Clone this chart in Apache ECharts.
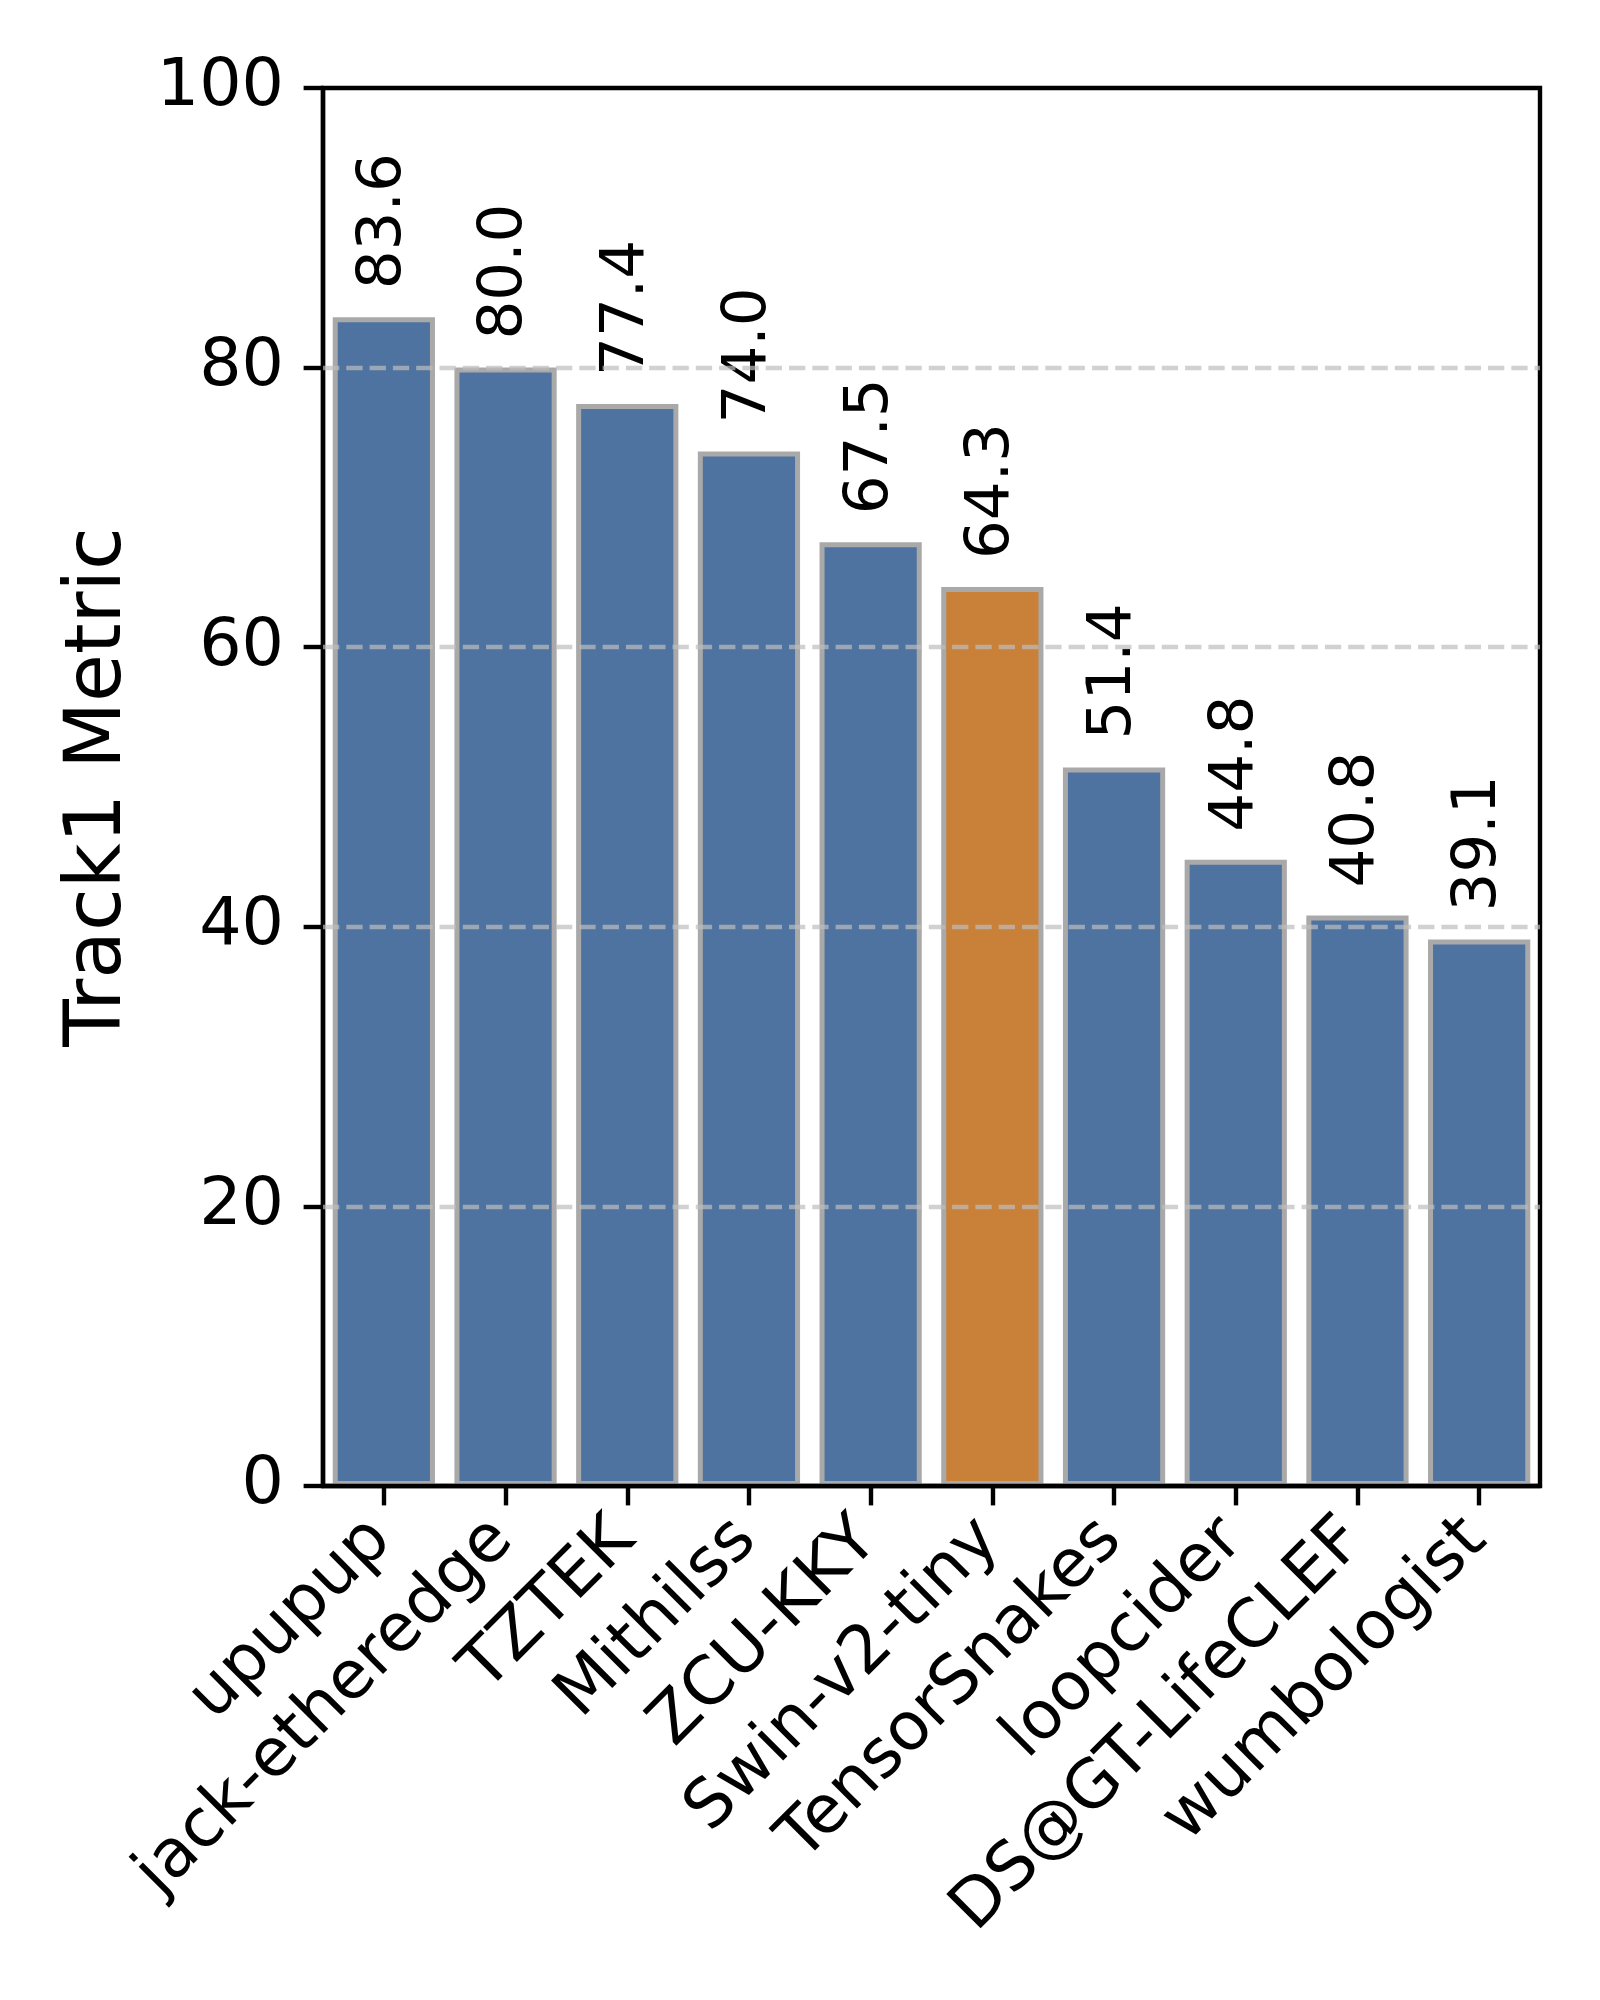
<!DOCTYPE html>
<html>
<head>
<meta charset="utf-8">
<script src="https://cdn.jsdelivr.net/npm/echarts@6/dist/echarts.min.js"></script>
<style>
html,body{margin:0;padding:0;background:#fff;}
#chart{width:1600px;height:2000px;}
</style>
</head>
<body>
<div id="chart"></div>
<script>
const categories = ['upupup','jack-etheredge','TZTEK','Mithilss','ZCU-KKY','Swin-v2-tiny','TensorSnakes','loopcider','DS@GT-LifeCLEF','wumbologist'];
const values = [83.6, 80.0, 77.4, 74.0, 67.5, 64.3, 51.4, 44.8, 40.8, 39.1];
const yTicks = [0, 20, 40, 60, 80, 100];
const highlighted = 'Swin-v2-tiny';
const yLabel = 'Track1 Metric';

const FONT = 'DejaVu Sans';
const BLUE = '#4e73a0';
const ORANGE = '#c98039';
const EDGE = '#a9a9a9';

const chart = echarts.init(document.getElementById('chart'), null, {renderer: 'canvas'});
const barData = categories.map((c, i) => ({
  value: values[i],
  itemStyle: {color: c === highlighted ? ORANGE : BLUE}
}));
const gridLines = yTicks.filter((t, i) => i > 0 && i < yTicks.length - 1).map(t => ({yAxis: t}));

chart.setOption({
  animation: false,
  backgroundColor: '#fff',
  grid: {left: 323, right: 60, top: 88, bottom: 514, show: true, borderColor: '#000', borderWidth: 4.4, backgroundColor: 'transparent'},
  xAxis: {
    type: 'category',
    data: categories,
    z: 5,
    axisLine: {show: true, lineStyle: {color: '#000', width: 4.4}},
    axisTick: {show: true, alignWithLabel: true, length: 19.4, lineStyle: {color: '#000', width: 4.4}},
    axisLabel: {rotate: 45, interval: 0, fontSize: 66.7, fontFamily: FONT, color: '#000', margin: 41, padding: [0, 4, 0, 0]},
    splitLine: {show: false}
  },
  yAxis: {
    type: 'value',
    min: yTicks[0], max: yTicks[yTicks.length - 1], interval: 20,
    name: yLabel,
    nameLocation: 'middle',
    nameGap: 184,
    nameTextStyle: {fontSize: 77.8, fontFamily: FONT, color: '#000'},
    axisLine: {show: true, lineStyle: {color: '#000', width: 4.4}},
    axisTick: {show: true, length: 19.4, lineStyle: {color: '#000', width: 4.4}},
    axisLabel: {fontSize: 66.7, fontFamily: FONT, color: '#000', margin: 39},
    splitLine: {show: false}
  },
  series: [{
    type: 'bar',
    data: barData,
    barWidth: '84%',
    itemStyle: {borderColor: EDGE, borderWidth: 5},
    label: {
      show: true,
      position: 'top',
      rotate: 90,
      align: 'left',
      verticalAlign: 'middle',
      distance: 28,
      fontSize: 61.1,
      fontFamily: FONT,
      color: '#000',
      formatter: p => p.value.toFixed(1)
    },
    markLine: {
      silent: true,
      symbol: 'none',
      label: {show: false},
      lineStyle: {color: 'rgba(190,190,190,0.7)', width: 4.4, type: [16.3, 7]},
      data: gridLines
    }
  }]
});
</script>
</body>
</html>
